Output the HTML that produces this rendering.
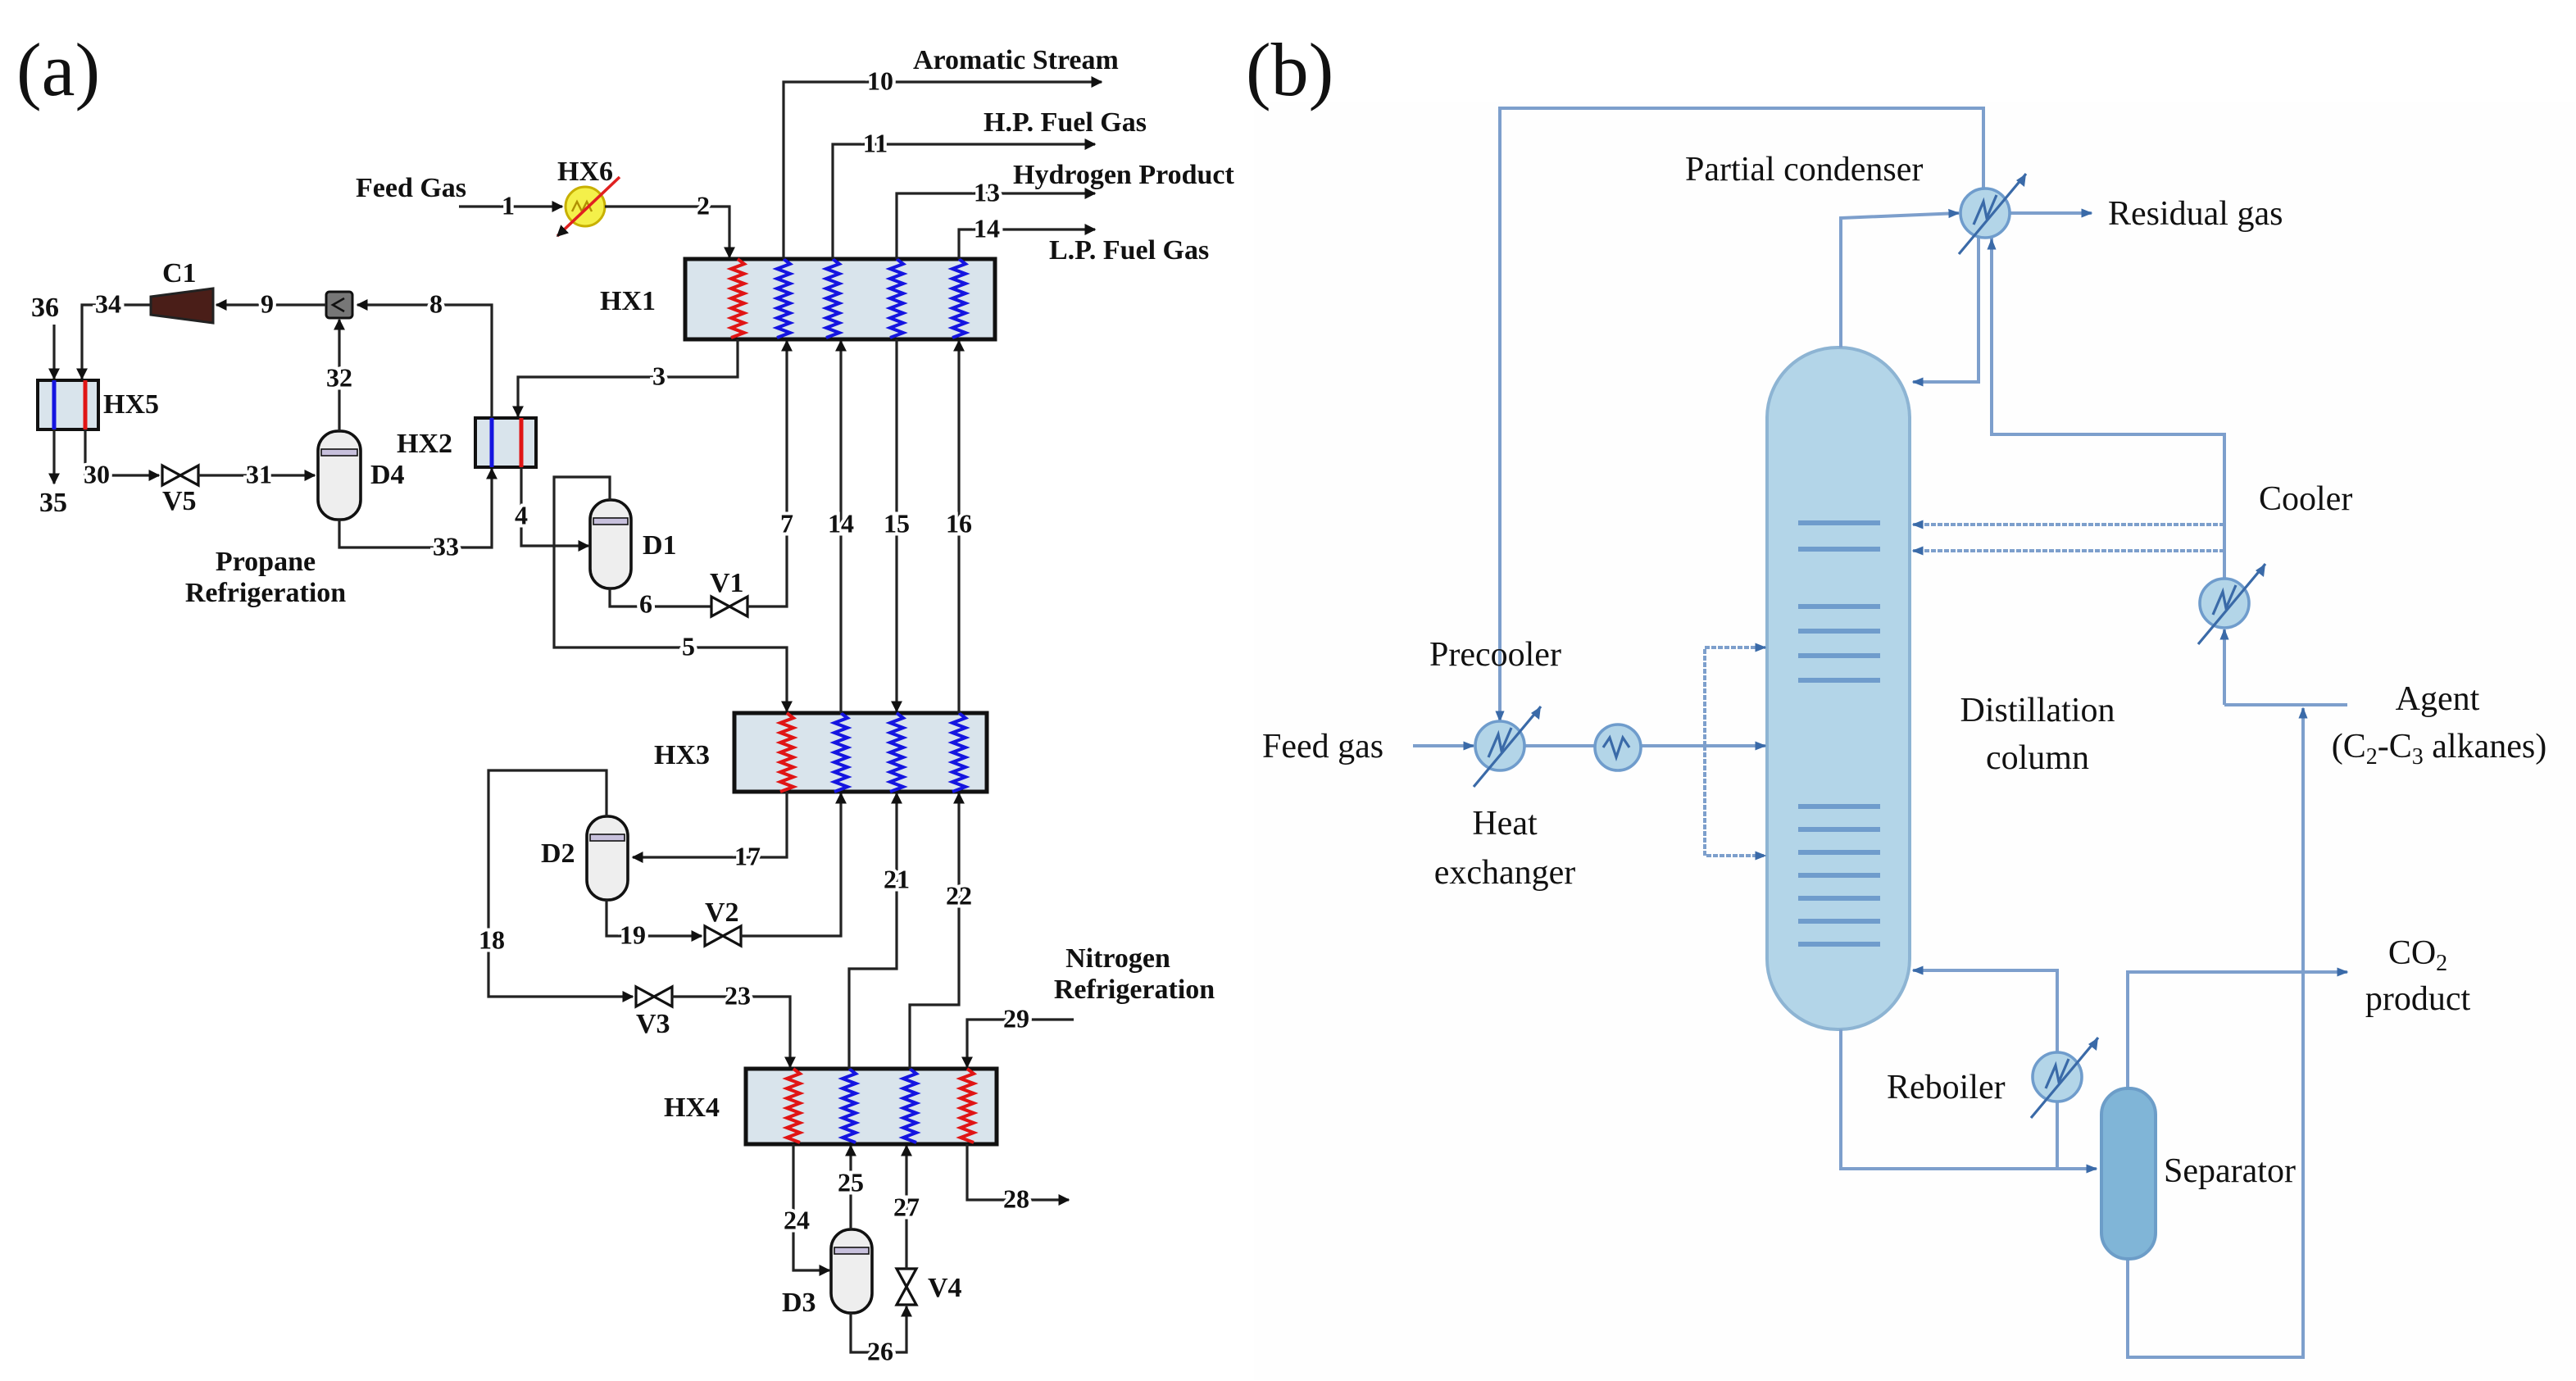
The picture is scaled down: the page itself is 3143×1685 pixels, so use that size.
<!DOCTYPE html>
<html><head><meta charset="utf-8"><style>
html,body{margin:0;padding:0;background:#fff;}
svg{display:block}
.a text{font-family:"Liberation Serif",serif;font-weight:bold;font-size:17px;fill:#111;}
.a .lb{paint-order:stroke;stroke:#fff;stroke-width:4px;text-anchor:middle;dominant-baseline:middle;font-size:16px;}
.b text{font-family:"Liberation Serif",serif;font-size:21px;fill:#111;}
.ln{fill:none;stroke:#222;stroke-width:1.6}
.bl{fill:none;stroke:#7d9fcc;stroke-width:2}
</style></head><body>
<svg width="3143" height="1685" viewBox="0 0 1571.5 842.5" xmlns="http://www.w3.org/2000/svg">
<defs>
<marker id="ar" viewBox="0 0 10 10" refX="9" refY="5" markerWidth="7" markerHeight="7" orient="auto" markerUnits="userSpaceOnUse"><path d="M0,0L10,5L0,10z" fill="#111"/></marker>
<marker id="ab" viewBox="0 0 10 10" refX="9" refY="5" markerWidth="7" markerHeight="7" orient="auto" markerUnits="userSpaceOnUse"><path d="M0,1L10,5L0,9z" fill="#3a6aa8"/></marker>
</defs>
<rect width="1571.5" height="842.5" fill="#fff"/>
<rect x="765" y="62" width="806" height="780" fill="#fefefe"/>
<g class="a">
<text x="10" y="58" style="font-size:46px;font-weight:normal">(a)</text>
<rect x="418" y="158" width="189" height="49" fill="#d9e4ec" stroke="#111" stroke-width="2.5"/>
<rect x="448" y="435" width="154" height="48" fill="#d9e4ec" stroke="#111" stroke-width="2.5"/>
<rect x="455" y="652" width="153" height="46" fill="#d9e4ec" stroke="#111" stroke-width="2.5"/>
<rect x="290" y="255" width="37" height="30" fill="#d9e4ec" stroke="#111" stroke-width="2"/>
<rect x="23" y="232" width="37" height="30" fill="#d9e4ec" stroke="#111" stroke-width="2"/>
<line x1="300" y1="255" x2="300" y2="285" stroke="#1515e0" stroke-width="2.5"/>
<line x1="318" y1="255" x2="318" y2="285" stroke="#e01515" stroke-width="2.5"/>
<line x1="33" y1="232" x2="33" y2="262" stroke="#1515e0" stroke-width="2.5"/>
<line x1="52" y1="232" x2="52" y2="262" stroke="#e01515" stroke-width="2.5"/>
<g id="coils"></g>
<text x="366" y="189">HX1</text><text x="399" y="466">HX3</text><text x="405" y="681">HX4</text>
<text x="242" y="276">HX2</text><text x="63" y="252">HX5</text>
<polyline class="ln" points="478,158 478,50 672,50" marker-end="url(#ar)"/>
<polyline class="ln" points="508,158 508,88 668,88" marker-end="url(#ar)"/>
<polyline class="ln" points="547,158 547,118 668,118" marker-end="url(#ar)"/>
<polyline class="ln" points="585,158 585,140 668,140" marker-end="url(#ar)"/>
<text class="lb" x="537" y="51">10</text><text class="lb" x="534" y="89">11</text><text class="lb" x="602" y="119">13</text><text class="lb" x="602" y="141">14</text>
<text x="557" y="42">Aromatic Stream</text><text x="600" y="80">H.P. Fuel Gas</text><text x="618" y="112">Hydrogen Product</text><text x="640" y="158">L.P. Fuel Gas</text>
<text x="217" y="120">Feed Gas</text>
<polyline class="ln" points="280,126 343,126" marker-end="url(#ar)"/>
<text class="lb" x="310" y="127">1</text>
<circle cx="357" cy="126" r="12" fill="#f4f04a" stroke="#c8b000" stroke-width="1.5"/>
<path d="M349,129 l3,-6 l3,6 l3,-6 l3,6" fill="none" stroke="#b09000" stroke-width="1.2"/>
<line x1="378" y1="108" x2="340" y2="144" stroke="#e02020" stroke-width="1.8" marker-end="url(#ar)"/>
<text x="340" y="110">HX6</text>
<polyline class="ln" points="369,126 445,126 445,157" marker-end="url(#ar)"/>
<text class="lb" x="429" y="127">2</text>
<polyline class="ln" points="450,207 450,230 316,230 316,254" marker-end="url(#ar)"/>
<text class="lb" x="402" y="231">3</text>
<polyline class="ln" points="318,285 318,333 359,333" marker-end="url(#ar)"/>
<text class="lb" x="318" y="316">4</text>
<rect x="360" y="305" width="25" height="54" rx="12" fill="#eee" stroke="#111" stroke-width="1.8"/>
<rect x="362" y="316" width="21" height="4" fill="#c7c0dc" stroke="#111" stroke-width="0.8"/>
<text x="392" y="338">D1</text>
<polyline class="ln" points="372,305 372,291 338,291 338,395 480,395 480,434" marker-end="url(#ar)"/>
<text class="lb" x="420" y="396">5</text>
<polyline class="ln" points="372,359 372,370 434,370"/>
<text class="lb" x="394" y="370">6</text>
<path d="M434,364 L445,370 L434,376z M456,364 L445,370 L456,376z" fill="#fff" stroke="#111" stroke-width="1.6"/>
<text x="433" y="361">V1</text>
<polyline class="ln" points="456,370 480,370 480,208" marker-end="url(#ar)"/>
<text class="lb" x="480" y="321">7</text>
<polyline class="ln" points="513,435 513,208" marker-end="url(#ar)"/>
<polyline class="ln" points="547,207 547,434" marker-end="url(#ar)"/>
<polyline class="ln" points="585,435 585,208" marker-end="url(#ar)"/>
<text class="lb" x="513" y="321">14</text><text class="lb" x="547" y="321">15</text><text class="lb" x="585" y="321">16</text>
<polyline class="ln" points="300,255 300,186 218,186" marker-end="url(#ar)"/>
<text class="lb" x="266" y="187">8</text>
<rect x="199" y="178" width="16" height="16" rx="2" fill="#777" stroke="#111" stroke-width="1.5"/>
<path d="M210,182 L203,186 L210,190" fill="none" stroke="#111" stroke-width="1.3"/>
<polyline class="ln" points="199,186 132,186" marker-end="url(#ar)"/>
<text class="lb" x="163" y="187">9</text>
<path d="M92,181 L130,176 L130,197 L92,192z" fill="#4a1e18" stroke="#222" stroke-width="1.5"/>
<text x="99" y="172">C1</text>
<polyline class="ln" points="92,186 50,186 50,231" marker-end="url(#ar)"/>
<polyline class="ln" points="33,198 33,231" marker-end="url(#ar)"/>
<text class="lb" x="66" y="187">34</text><text x="19" y="193">36</text>
<polyline class="ln" points="33,262 33,295" marker-end="url(#ar)"/>
<text x="24" y="312">35</text>
<polyline class="ln" points="52,262 52,290 97,290" marker-end="url(#ar)"/>
<text class="lb" x="59" y="291">30</text>
<path d="M99,284 L110,290 L99,296z M121,284 L110,290 L121,296z" fill="#fff" stroke="#111" stroke-width="1.6"/>
<text x="99" y="311">V5</text>
<polyline class="ln" points="121,290 192,290" marker-end="url(#ar)"/>
<text class="lb" x="158" y="291">31</text>
<rect x="194" y="263" width="26" height="54" rx="12" fill="#eee" stroke="#111" stroke-width="1.8"/>
<rect x="196" y="274" width="22" height="4" fill="#c7c0dc" stroke="#111" stroke-width="0.8"/>
<text x="226" y="295">D4</text>
<polyline class="ln" points="207,263 207,195" marker-end="url(#ar)"/>
<text class="lb" x="207" y="232">32</text>
<polyline class="ln" points="207,317 207,334 300,334 300,286" marker-end="url(#ar)"/>
<text class="lb" x="272" y="335">33</text>
<text x="162" y="348" text-anchor="middle">Propane</text><text x="162" y="367" text-anchor="middle">Refrigeration</text>
<polyline class="ln" points="480,483 480,523 386,523" marker-end="url(#ar)"/>
<text class="lb" x="456" y="524">17</text>
<rect x="358" y="498" width="25" height="51" rx="12" fill="#eee" stroke="#111" stroke-width="1.8"/>
<rect x="360" y="509" width="21" height="4" fill="#c7c0dc" stroke="#111" stroke-width="0.8"/>
<text x="330" y="526">D2</text>
<polyline class="ln" points="370,498 370,470 298,470 298,608 386,608" marker-end="url(#ar)"/>
<text class="lb" x="300" y="575">18</text>
<path d="M388,602 L399,608 L388,614z M410,602 L399,608 L410,614z" fill="#fff" stroke="#111" stroke-width="1.6"/>
<text x="388" y="630">V3</text>
<polyline class="ln" points="410,608 482,608 482,651" marker-end="url(#ar)"/>
<text class="lb" x="450" y="609">23</text>
<polyline class="ln" points="370,549 370,571 428,571" marker-end="url(#ar)"/>
<text class="lb" x="386" y="572">19</text>
<path d="M430,565 L441,571 L430,577z M452,565 L441,571 L452,577z" fill="#fff" stroke="#111" stroke-width="1.6"/>
<text x="430" y="562">V2</text>
<polyline class="ln" points="452,571 513,571 513,484" marker-end="url(#ar)"/>
<polyline class="ln" points="518,652 518,591 547,591 547,484" marker-end="url(#ar)"/>
<text class="lb" x="547" y="538">21</text>
<polyline class="ln" points="555,652 555,613 585,613 585,484" marker-end="url(#ar)"/>
<text class="lb" x="585" y="548">22</text>
<polyline class="ln" points="655,622 590,622 590,651" marker-end="url(#ar)"/>
<text class="lb" x="620" y="623">29</text>
<text x="682" y="590" text-anchor="middle">Nitrogen</text><text x="692" y="609" text-anchor="middle">Refrigeration</text>
<polyline class="ln" points="590,698 590,732 652,732" marker-end="url(#ar)"/>
<text class="lb" x="620" y="733">28</text>
<polyline class="ln" points="484,698 484,775 506,775" marker-end="url(#ar)"/>
<text class="lb" x="486" y="746">24</text>
<rect x="507" y="750" width="25" height="51" rx="12" fill="#eee" stroke="#111" stroke-width="1.8"/>
<rect x="509" y="761" width="21" height="4" fill="#c7c0dc" stroke="#111" stroke-width="0.8"/>
<text x="477" y="800">D3</text>
<polyline class="ln" points="519,750 519,699" marker-end="url(#ar)"/>
<text class="lb" x="519" y="723">25</text>
<polyline class="ln" points="519,801 519,825 553,825 553,797" marker-end="url(#ar)"/>
<text class="lb" x="537" y="826">26</text>
<path d="M547,774 L553,785 L559,774z M547,796 L553,785 L559,796z" fill="#fff" stroke="#111" stroke-width="1.6"/>
<text x="566" y="791">V4</text>
<polyline class="ln" points="553,774 553,699" marker-end="url(#ar)"/>
<text class="lb" x="553" y="738">27</text>
</g>

<g class="b">
<text x="760" y="58" style="font-size:46px">(b)</text>
<rect x="1078" y="212" width="87" height="416" rx="43" fill="#b3d5e8" stroke="#8db4d3" stroke-width="2"/>
<g stroke="#6f9ccc" stroke-width="3">
<line x1="1097" y1="319" x2="1147" y2="319"/><line x1="1097" y1="335" x2="1147" y2="335"/>
<line x1="1097" y1="370" x2="1147" y2="370"/><line x1="1097" y1="385" x2="1147" y2="385"/><line x1="1097" y1="400" x2="1147" y2="400"/><line x1="1097" y1="415" x2="1147" y2="415"/>
<line x1="1097" y1="492" x2="1147" y2="492"/><line x1="1097" y1="506" x2="1147" y2="506"/><line x1="1097" y1="520" x2="1147" y2="520"/><line x1="1097" y1="534" x2="1147" y2="534"/><line x1="1097" y1="548" x2="1147" y2="548"/><line x1="1097" y1="562" x2="1147" y2="562"/><line x1="1097" y1="576" x2="1147" y2="576"/>
</g>
<polyline class="bl" points="1123,212 1123,133 1195,130" marker-end="url(#ab)"/>
<polyline class="bl" points="1226,130 1276,130" marker-end="url(#ab)"/>
<polyline class="bl" points="1210,115 1210,66 915,66 915,440" marker-end="url(#ab)"/>
<polyline class="bl" points="1207,145 1207,233 1167,233" marker-end="url(#ab)"/>
<polyline class="bl" points="1215,145 1215,265 1357,265 1357,353"/>
<polyline class="bl" points="1215,175 1215,146" marker-end="url(#ab)"/>
<polyline class="bl" points="1357,320 1167,320" marker-end="url(#ab)" stroke-dasharray="3,1"/>
<polyline class="bl" points="1357,336 1167,336" marker-end="url(#ab)" stroke-dasharray="3,1"/>
<polyline class="bl" points="1357,430 1357,384" marker-end="url(#ab)"/>
<polyline class="bl" points="1357,430 1432,430" stroke-width="3"/>
<polyline class="bl" points="862,455 899,455" marker-end="url(#ab)"/>
<polyline class="bl" points="930,455 973,455"/>
<polyline class="bl" points="1001,455 1077,455" marker-end="url(#ab)"/>
<polyline class="bl" points="1040,455 1040,395 1077,395" marker-end="url(#ab)" stroke-dasharray="3,1"/>
<polyline class="bl" points="1040,455 1040,522 1077,522" marker-end="url(#ab)" stroke-dasharray="3,1"/>
<polyline class="bl" points="1123,628 1123,713 1279,713" marker-end="url(#ab)"/>
<polyline class="bl" points="1255,713 1255,672"/>
<polyline class="bl" points="1255,642 1255,592 1167,592" marker-end="url(#ab)"/>
<polyline class="bl" points="1298,664 1298,593 1432,593" marker-end="url(#ab)"/>
<polyline class="bl" points="1298,768 1298,828 1405,828 1405,432" marker-end="url(#ab)"/>
<rect x="1282" y="664" width="33" height="104" rx="16" fill="#80b5d7" stroke="#6c9dc8" stroke-width="2"/>
<g fill="#b3d5e8" stroke="#6f9ccc" stroke-width="1.8">
<circle cx="1211" cy="130" r="15"/><circle cx="1357" cy="368" r="15"/><circle cx="915" cy="455" r="15"/><circle cx="987" cy="456" r="14"/><circle cx="1255" cy="657" r="15"/>
</g>
<g fill="none" stroke="#3a6aa8" stroke-width="1.6">
<path d="M1195,155 L1236,106 M1204,137 l6,-14 l2,10 l6,-14"/>
<path d="M1341,393 L1382,344 M1350,375 l6,-14 l2,10 l6,-14"/>
<path d="M899,480 L940,431 M908,462 l6,-14 l2,10 l6,-14"/>
<path d="M1239,682 L1280,633 M1248,664 l6,-14 l2,10 l6,-14"/>
<path d="M978,456 l4,-6 l4,12 l4,-12 l4,6"/>
</g>
<g fill="#3a6aa8"><path d="M1236,106 l-1,8 l-5,-4z M1382,344 l-1,8 l-5,-4z M940,431 l-1,8 l-5,-4z M1280,633 l-1,8 l-5,-4z"/></g>
<text x="1028" y="110">Partial condenser</text>
<text x="1286" y="137">Residual gas</text>
<text x="1378" y="311">Cooler</text>
<text x="872" y="406">Precooler</text>
<text x="770" y="462">Feed gas</text>
<text x="918" y="509" text-anchor="middle">Heat</text><text x="918" y="539" text-anchor="middle">exchanger</text>
<text x="1243" y="440" text-anchor="middle">Distillation</text><text x="1243" y="469" text-anchor="middle">column</text>
<text x="1487" y="433" text-anchor="middle">Agent</text>
<text x="1488" y="462" text-anchor="middle">(C<tspan font-size="14" dy="4">2</tspan><tspan dy="-4">-C</tspan><tspan font-size="14" dy="4">3</tspan><tspan dy="-4"> alkanes)</tspan></text>
<text x="1475" y="588" text-anchor="middle">CO<tspan font-size="14" dy="4">2</tspan></text>
<text x="1475" y="616" text-anchor="middle">product</text>
<text x="1151" y="670">Reboiler</text>
<text x="1320" y="721">Separator</text>
</g>
<script>
(function(){
var g=document.getElementById('coils'),ns='http://www.w3.org/2000/svg';
var c=[[450,158,207,'#e01515'],[478,158,207,'#1515e0'],[508,158,207,'#1515e0'],[547,158,207,'#1515e0'],[585,158,207,'#1515e0'],
[480,435,483,'#e01515'],[513,435,483,'#1515e0'],[547,435,483,'#1515e0'],[585,435,483,'#1515e0'],
[484,652,698,'#e01515'],[518,652,698,'#1515e0'],[555,652,698,'#1515e0'],[590,652,698,'#e01515']];
c.forEach(function(k){var d='M'+k[0]+','+k[1],s=1;for(var y=k[1]+3;y<=k[2];y+=3){d+=' L'+(k[0]+4*s)+','+y;s=-s;}
var p=document.createElementNS(ns,'path');p.setAttribute('d',d);p.setAttribute('fill','none');p.setAttribute('stroke',k[3]);p.setAttribute('stroke-width','2');g.appendChild(p);});
})();
</script>
</svg>
</body></html>
